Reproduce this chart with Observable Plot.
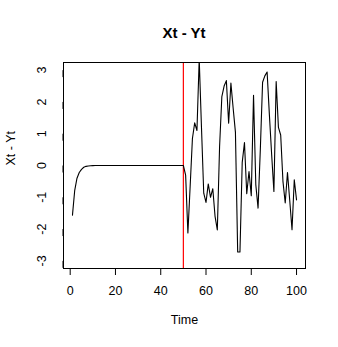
<!DOCTYPE html>
<html>
<head>
<meta charset="utf-8">
<script src="https://cdn.jsdelivr.net/npm/d3@7"></script>
<script src="https://cdn.jsdelivr.net/npm/@observablehq/plot@0.6"></script>
<style>
  body { margin: 0; background: #fff; font-family: "Liberation Sans", Arial, Helvetica, sans-serif; }
  #wrap { width: 338px; }
  #title { box-sizing: border-box; height: 50px; padding-top: 26px; margin-left: 63px; width: 242px;
           text-align: center; font-weight: bold; font-size: 15px; line-height: 14px; color: #000; }
</style>
</head>
<body>
<div id="wrap">
  <div id="title">Xt - Yt</div>
  <div id="chart"></div>
</div>
<script>
const title = "Xt - Yt";
const xLabel = "Time";
const yLabel = "Xt - Yt";
const xTicks = [0, 20, 40, 60, 80, 100];
const yTicks = [-3, -2, -1, 0, 1, 2, 3];
const breakTime = [50];

const time = d3.range(1, 101);
const values = [
  -1.56, -0.78, -0.40, -0.22, -0.12, -0.055, -0.027, -0.014, -0.007, -0.003,
  -0.002, -0.001, 0, 0, 0, 0, 0, 0, 0, 0,
  0, 0, 0, 0, 0, 0, 0, 0, 0, 0,
  0, 0, 0, 0, 0, 0, 0, 0, 0, 0,
  0, 0, 0, 0, 0, 0, 0, 0, 0, 0,
  -0.3, -2.12, -0.65, 0.85, 1.34, 1.1, 3.35, 1.2, -0.87, -1.16,
  -0.58, -1.0, -0.73, -1.6, -2.03, 0.6, 2.17, 2.5, 2.67, 1.33,
  2.59, 1.8, 1.05, -2.72, -2.72, 0.1, 0.72, -0.89, -0.19, -0.95,
  2.21, -0.6, -1.34, 0.5, 2.62, 2.82, 2.94, 1.6, 0.35, -0.82,
  2.64, 1.2, 0.96, -0.5, -1.18, -0.22, -1.1, -2.02, -0.45, -1.08
];

document.getElementById("title").textContent = title;

const fmt = d => String(d);

const chart = Plot.plot({
  width: 338,
  height: 297,
  marginLeft: 63,
  marginRight: 33,
  marginTop: 12,
  marginBottom: 79,
  style: { fontSize: "12.5px", fontFamily: "'Liberation Sans', Arial, Helvetica, sans-serif", color: "#000", background: "#fff" },
  x: { domain: [-2.96, 103.96] },
  y: { domain: [-3.24, 3.24] },
  marks: [
    Plot.axisX({ ticks: xTicks, tickFormat: fmt, tickSize: 7, tickPadding: 11, label: null, stroke: "#000" }),
    Plot.axisY({ ticks: yTicks, tickFormat: fmt, tickSize: 7, tickPadding: 15, rotate: -90, textAnchor: "middle", label: null, stroke: "#000" }),
    Plot.ruleX(breakTime, { stroke: "#ff0000", strokeWidth: 1.2 }),
    Plot.lineY(values, { x: time, y: values, stroke: "#000", strokeWidth: 1.1, clip: true }),
    Plot.frame({ stroke: "#000" }),
    Plot.text([xLabel], { frameAnchor: "bottom", dy: 55, text: d => d, fill: "#000" }),
    Plot.text([yLabel], { frameAnchor: "left", dx: -53, rotate: -90, text: d => d, fill: "#000" })
  ]
});
document.getElementById("chart").appendChild(chart);
</script>
</body>
</html>
